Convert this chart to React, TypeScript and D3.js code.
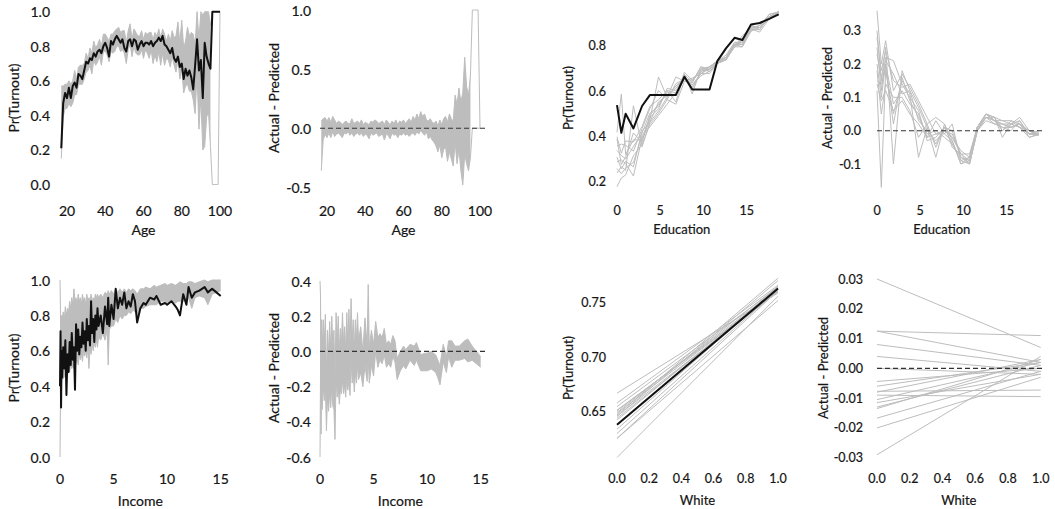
import React from 'react';
import * as d3 from 'd3';

// ---------------- DATA ----------------
const AGES = [17,18,19,20,21,22,23,24,25,26,27,28,29,30,31,32,33,34,35,36,37,38,39,40,41,42,43,44,45,46,47,48,49,50,51,52,53,54,55,56,57,58,59,60,61,62,63,64,65,66,67,68,69,70,71,72,73,74,75,76,77,78,79,80,81,82,83,84,85,86,87,88,89,90,91,92,93,94,95,96,97,98,99,100];
const AGE_ACTUAL = [
  0.21,0.47,0.53,0.50,0.56,0.50,0.57,0.59,0.56,0.64,
  0.63,0.61,0.66,0.71,0.70,0.73,0.72,0.76,0.74,0.77,
  0.78,0.76,0.80,0.82,0.79,0.74,0.83,0.81,0.84,0.86,
  0.84,0.82,0.84,0.79,0.77,0.83,0.84,0.80,0.84,0.83,
  0.78,0.81,0.83,0.80,0.82,0.82,0.81,0.83,0.80,0.82,
  0.83,0.85,0.83,0.86,0.81,0.80,0.78,0.76,0.79,0.73,
  0.71,0.74,0.68,0.70,0.61,0.67,0.63,0.66,0.62,0.55,
  0.69,0.84,0.66,0.72,0.50,0.82,0.74,0.70,0.67,1.00,
  1.00,1.00,1.00,1.00];
const AGE_RESID_LO = [
  -0.36,-0.10,-0.05,-0.08,-0.04,-0.08,-0.03,-0.07,-0.05,-0.04,
  -0.06,-0.08,-0.04,-0.05,-0.03,-0.06,-0.04,-0.07,-0.05,-0.04,
  -0.06,-0.04,-0.07,-0.05,-0.06,-0.09,-0.04,-0.06,-0.05,-0.04,
  -0.07,-0.06,-0.05,-0.10,-0.05,-0.06,-0.09,-0.04,-0.06,-0.05,
  -0.08,-0.05,-0.06,-0.04,-0.06,-0.05,-0.07,-0.05,-0.04,-0.06,
  -0.03,-0.05,-0.02,-0.04,-0.06,-0.03,-0.09,-0.07,-0.10,-0.12,
  -0.15,-0.20,-0.14,-0.25,-0.18,-0.16,-0.28,-0.20,-0.26,-0.32,
  -0.12,-0.30,-0.18,-0.36,-0.48,-0.22,-0.30,-0.36,-0.25,0,
  0,0,0,0];
const AGE_RESID_HI = [
  0.06,0.08,0.09,0.06,0.09,0.05,0.10,0.07,0.04,0.06,
  0.05,0.03,0.05,0.06,0.04,0.04,0.08,0.04,0.05,0.06,
  0.04,0.07,0.03,0.05,0.04,0.03,0.06,0.05,0.07,0.06,
  0.04,0.05,0.06,0.03,0.07,0.05,0.03,0.06,0.04,0.07,
  0.03,0.06,0.05,0.07,0.04,0.06,0.08,0.05,0.10,0.07,
  0.12,0.08,0.14,0.10,0.12,0.07,0.06,0.08,0.05,0.04,
  0.06,0.02,0.07,0.03,0.08,0.10,0.05,0.12,0.08,0.06,
  0.28,0.20,0.34,0.22,0.30,0.60,0.35,0.28,0.45,1,
  1,1,1,0];
const AGE_BAND_MAX = 95;

const EDU = [0,0.5,1,1.9,2.9,3.8,4.8,5.8,6.8,7.8,8.7,9.7,10.7,11.6,12.6,13.6,14.5,15.5,16.5,17.6,18.7];
const EDU_ACTUAL = [0.538,0.416,0.50,0.435,0.534,0.582,0.582,0.582,0.582,0.663,0.607,0.607,0.607,0.732,0.788,0.835,0.825,0.894,0.90,0.918,0.938];
const EDU_RESID_1 = [0.36,0.20,0.27,0.12,0.17,0.13,0.08,0.02,0.04,0.02,-0.05,-0.07,-0.10,0.00,0.05,0.04,0.00,0.03,0.02,0.00,-0.01];
const EDU_RESID_2 = [0.25,0.12,0.22,0.21,0.14,0.10,0.06,-0.03,-0.02,0.01,-0.04,-0.08,-0.09,0.01,0.04,0.03,0.03,0.02,0.01,-0.01,-0.01];
const EDU_RESID_3 = [0.12,-0.17,0.18,0.05,0.15,0.11,-0.08,0.01,-0.08,0.02,-0.03,-0.10,-0.09,0.00,0.04,0.04,-0.02,0.02,0.04,0.00,-0.015];
const EDU_RESID_4 = [0.30,0.15,0.25,-0.10,0.18,0.12,0.03,0.00,-0.03,0.00,-0.02,-0.06,-0.08,0.01,0.05,0.03,0.02,0.01,0.02,-0.01,0.00];
const EDU_RESID_5 = [0.20,0.10,0.20,0.08,0.12,0.08,0.05,-0.02,0.03,-0.01,0.02,-0.09,-0.10,0.00,0.03,0.02,0.01,0.00,0.03,-0.01,-0.01];
const EDU_RESID_6 = [0.28,0.18,0.24,0.15,0.13,0.14,0.09,0.04,-0.01,0.00,-0.01,-0.07,-0.07,0.01,0.05,0.04,0.03,0.03,0.01,0.00,-0.005];
const EDU_RESID_7 = [0.18,0.05,0.14,0.10,0.10,0.06,-0.02,0.02,-0.05,0.01,0.00,-0.08,-0.10,0.00,0.04,0.02,0.02,0.02,0.03,-0.02,-0.01];
const EDU_RESID_8 = [0.15,0.14,0.19,0.02,0.16,0.09,0.04,-0.01,0.00,-0.02,-0.04,-0.09,-0.08,0.01,0.05,0.03,0.01,0.01,0.02,-0.01,-0.012];
const EDU_RESID_9 = [0.23,0.16,0.21,0.17,0.11,0.12,0.07,0.01,-0.04,0.01,-0.02,-0.07,-0.09,0.00,0.04,0.03,0.02,0.01,0.02,-0.01,-0.008];
const EDU_RESID_10 = [0.14,0.09,0.12,0.06,0.09,0.05,0.02,-0.02,-0.01,-0.01,-0.03,-0.10,-0.08,0.01,0.05,0.03,0.00,0.02,0.01,-0.02,-0.012];
const EDU_RESIDS = [EDU_RESID_1,EDU_RESID_2,EDU_RESID_3,EDU_RESID_4,EDU_RESID_5,EDU_RESID_6,EDU_RESID_7,EDU_RESID_8,EDU_RESID_9,EDU_RESID_10];

const INCOME = [0,0.05,0.1,0.15,0.2,0.3,0.4,0.5,0.6,0.7,0.8,0.9,1.0,1.1,1.2,1.3,1.4,1.5,1.6,1.7,1.8,1.9,2.0,2.1,2.2,2.3,2.4,2.5,2.6,2.7,2.8,2.9,3.0,3.1,3.2,3.3,3.4,3.5,3.6,3.8,4.0,4.2,4.4,4.5,4.6,4.8,5.0,5.2,5.4,5.6,5.8,6.0,6.2,6.4,6.6,6.8,7.0,7.2,7.5,7.8,8.0,8.4,8.8,9.0,9.4,9.8,10.0,10.4,10.8,11.0,11.2,11.5,11.8,12.0,12.3,12.6,13.0,13.5,13.8,14.2,14.6,15.0];
const INCOME_ACTUAL = [0.40,0.71,0.28,0.60,0.45,0.62,0.50,0.66,0.35,0.58,0.48,0.65,0.52,0.70,0.55,0.62,0.38,0.75,0.60,0.72,0.58,0.68,0.62,0.76,0.64,0.71,0.60,0.78,0.66,0.74,0.63,0.88,0.70,0.78,0.65,0.80,0.72,0.84,0.74,0.80,0.70,0.85,0.75,0.90,0.74,0.86,0.78,0.95,0.84,0.90,0.86,0.93,0.84,0.88,0.85,0.92,0.88,0.76,0.84,0.87,0.86,0.90,0.89,0.91,0.86,0.87,0.86,0.88,0.85,0.83,0.80,0.92,0.86,0.96,0.90,0.93,0.94,0.96,0.93,0.95,0.93,0.91];
const INCOME_PRED_LO = [0.00,0.40,0.45,0.42,0.45,0.44,0.46,0.45,0.48,0.46,0.50,0.48,0.52,0.50,0.52,0.50,0.55,0.53,0.56,0.52,0.58,0.55,0.58,0.54,0.60,0.57,0.60,0.56,0.62,0.50,0.62,0.58,0.64,0.60,0.65,0.62,0.66,0.62,0.68,0.66,0.70,0.66,0.72,0.52,0.72,0.74,0.74,0.78,0.76,0.80,0.78,0.80,0.80,0.82,0.81,0.83,0.82,0.80,0.84,0.84,0.85,0.86,0.86,0.86,0.88,0.88,0.87,0.88,0.87,0.88,0.88,0.88,0.89,0.90,0.84,0.90,0.91,0.90,0.86,0.92,0.93,0.94];
const INCOME_PRED_HI = [1.00,0.80,0.75,0.80,0.78,0.82,0.78,0.85,0.80,0.84,0.82,0.88,0.84,0.90,0.86,0.95,0.88,0.90,0.86,0.92,0.88,0.90,0.86,0.92,0.88,0.90,0.86,0.92,0.88,0.90,0.88,0.92,0.88,0.90,0.88,0.92,0.90,0.92,0.90,0.92,0.90,0.93,0.92,0.94,0.92,0.94,0.92,0.95,0.93,0.95,0.93,0.95,0.93,0.95,0.94,0.95,0.94,0.92,0.95,0.95,0.96,0.95,0.97,0.96,0.97,0.98,0.97,0.98,0.97,0.98,0.99,0.98,0.98,0.99,0.99,0.98,0.99,1.00,0.99,1.00,1.00,1.00];

const WHITE = [0, 1];
const WHITE_ACTUAL = [0.638, 0.763];
const WHITE_RESID_START = [0.030,0.0125,0.0125,0.008,0.004,-0.0044,-0.0077,-0.008,-0.009,-0.0105,-0.0115,-0.013,-0.0135,-0.0167,-0.020,-0.029,0.000,-0.006];
const WHITE_RESID_END = [0.007,0.011,0.002,0.001,-0.001,0.000,-0.0073,0.003,-0.0095,0.002,-0.002,0.001,0.003,-0.001,-0.003,0.004,-0.002,0.002];

const AGE_TICKS = [20,40,60,80,100];
const EDU_TICKS = [0,5,10,15];
const INCOME_TICKS = [0,5,10,15];
const WHITE_TICKS = [0,0.2,0.4,0.6,0.8,1.0];
const PR_TICKS_01 = [0,0.2,0.4,0.6,0.8,1.0];
const AGE_RESID_TICKS = [-0.5,0,0.5,1.0];
const EDU_PR_TICKS = [0.2,0.4,0.6,0.8];
const EDU_RESID_TICKS = [-0.1,0,0.1,0.2,0.3];
const INCOME_RESID_TICKS = [-0.6,-0.4,-0.2,0,0.2,0.4];
const WHITE_PR_TICKS = [0.65,0.70,0.75];
const WHITE_RESID_TICKS = [-0.03,-0.02,-0.01,0,0.01,0.02,0.03];

// ---------------- DRAWING ----------------
const GRAY = '#bdbdbd';
const FONT = "Lato, 'Open Sans', sans-serif";
const clamp01 = (v: number) => Math.max(0, Math.min(1, v));
const fmt = (spec: string) => (v: number) => d3.format(spec)(v).replace('\u2212', '-');

type Series = { x: number[]; y: number[] };
type Band = { x: number[]; lo: number[]; hi: number[] };

interface PanelSpec {
  xDomain: [number, number]; xRange: [number, number];
  yDomain: [number, number]; yRange: [number, number];
  xTicks: number[]; yTicks: number[];
  xFmt: (v: number) => string; yFmt: (v: number) => string;
  xLabel: string; yLabel: string; fontSize: number; tickSize: number;
  yLabelX: number; tickRight: number; xTickY: number; xTitleY: number; yTitleY: number;
  bands?: Band[]; gray?: Series[]; black?: Series[];
  zero?: [number, number];
}

function Panel({ p }: { p: PanelSpec }) {
  const x = d3.scaleLinear().domain(p.xDomain).range(p.xRange);
  const y = d3.scaleLinear().domain(p.yDomain).range(p.yRange);
  const line = (s: Series) =>
    d3.line<number>().x((_, i) => x(s.x[i])).y((v) => y(v))(s.y) || '';
  const area = (b: Band) =>
    d3.area<number>().x((_, i) => x(b.x[i])).y0((_, i) => y(b.lo[i])).y1((_, i) => y(b.hi[i]))(b.x) || '';
  const txt = { fontSize: p.fontSize, fontFamily: FONT, fill: '#151515', stroke: '#151515', strokeWidth: 0.2 };
  const tick = { ...txt, fontSize: p.tickSize };
  return (
    <g>
      {(p.bands || []).map((b, i) => (
        <path key={'b' + i} d={area(b)} fill={GRAY} stroke="none" />
      ))}
      {(p.gray || []).map((s, i) => (
        <path key={'g' + i} d={line(s)} fill="none" stroke={GRAY} strokeWidth={1} strokeLinejoin="round" />
      ))}
      {(p.black || []).map((s, i) => (
        <path key={'k' + i} d={line(s)} fill="none" stroke="#111" strokeWidth={2} strokeLinejoin="round" />
      ))}
      {p.zero && (
        <line x1={p.zero[0]} x2={p.zero[1]} y1={y(0)} y2={y(0)} stroke="#333" strokeWidth={1.1} strokeDasharray="5,3" />
      )}
      {p.yTicks.map((t) => (
        <text key={'yt' + t} x={p.tickRight} y={y(t)} textAnchor="end" dominantBaseline="central" {...tick}>{p.yFmt(t)}</text>
      ))}
      {p.xTicks.map((t) => (
        <text key={'xt' + t} x={x(t)} y={p.xTickY} textAnchor="middle" dominantBaseline="central" {...tick}>{p.xFmt(t)}</text>
      ))}
      <text x={(p.xRange[0] + p.xRange[1]) / 2} y={p.xTitleY} textAnchor="middle" dominantBaseline="central" {...txt}>{p.xLabel}</text>
      <text transform={`translate(${p.yLabelX},${p.yTitleY}) rotate(-90)`} textAnchor="middle" dominantBaseline="central" {...txt}>{p.yLabel}</text>
    </g>
  );
}

export default function App() {
  const bandIdx = AGES.map((_, i) => i).filter((i) => AGES[i] <= AGE_BAND_MAX);
  const pick = (arr: number[]) => bandIdx.map((i) => arr[i]);
  const agePredLo = AGES.map((_, i) => clamp01(AGE_ACTUAL[i] - AGE_RESID_HI[i]));
  const agePredHi = AGES.map((_, i) => clamp01(AGE_ACTUAL[i] - AGE_RESID_LO[i]));

  const incResidLo = INCOME.map((_, i) => INCOME_ACTUAL[i] - INCOME_PRED_HI[i]);
  const incResidHi = INCOME.map((_, i) => INCOME_ACTUAL[i] - INCOME_PRED_LO[i]);

  const eduPred = EDU_RESIDS.map((r) => EDU_ACTUAL.map((a, i) => a - r[i]));
  const whitePred = WHITE_RESID_START.map((s, k) => [WHITE_ACTUAL[0] - s, WHITE_ACTUAL[1] - WHITE_RESID_END[k]]);

  const L = { fontSize: 14, tickSize: 14 }; // left figure
  const R = { fontSize: 13, tickSize: 12.5 }; // right figure
  const row1 = { xTickY: 210, xTitleY: 229, yTitleY: 98 };
  const row2 = { xTickY: 478, xTitleY: 500, yTitleY: 368 };

  const panels: PanelSpec[] = [
    {
      ...row1, ...L, xDomain: [20, 100], xRange: [67, 220], yDomain: [0, 1], yRange: [184.5, 11.7],
      xTicks: AGE_TICKS, yTicks: PR_TICKS_01, xFmt: fmt('d'), yFmt: fmt('.1f'),
      xLabel: 'Age', yLabel: 'Pr(Turnout)', yLabelX: 13, tickRight: 50,
      bands: [{ x: pick(AGES), lo: pick(agePredLo), hi: pick(agePredHi) }],
      gray: [{ x: AGES, y: agePredLo }, { x: AGES, y: agePredHi }],
      black: [{ x: AGES, y: AGE_ACTUAL }],
    },
    {
      ...row1, ...L, xDomain: [20, 100], xRange: [327, 480], yDomain: [-0.5, 1], yRange: [187.3, 10],
      xTicks: AGE_TICKS, yTicks: AGE_RESID_TICKS, xFmt: fmt('d'), yFmt: fmt('.1f'),
      xLabel: 'Age', yLabel: 'Actual - Predicted', yLabelX: 273, tickRight: 311,
      bands: [{ x: pick(AGES), lo: pick(AGE_RESID_LO), hi: pick(AGE_RESID_HI) }],
      gray: [{ x: AGES, y: AGE_RESID_LO }, { x: AGES, y: AGE_RESID_HI }],
      zero: [320, 488],
    },
    {
      ...row1, ...R, xDomain: [0, 15], xRange: [617, 746.7], yDomain: [0.2, 0.8], yRange: [181.7, 45.7],
      xTicks: EDU_TICKS, yTicks: EDU_PR_TICKS, xFmt: fmt('d'), yFmt: fmt('.1f'),
      xLabel: 'Education', yLabel: 'Pr(Turnout)', yLabelX: 568, tickRight: 606,
      gray: eduPred.map((s) => ({ x: EDU, y: s })),
      black: [{ x: EDU, y: EDU_ACTUAL }],
    },
    {
      ...row1, ...R, xDomain: [0, 15], xRange: [877, 1006.7], yDomain: [-0.1, 0.3], yRange: [164, 30.7],
      xTicks: EDU_TICKS, yTicks: EDU_RESID_TICKS, xFmt: fmt('d'), yFmt: fmt('.1f'),
      xLabel: 'Education', yLabel: 'Actual - Predicted', yLabelX: 827, tickRight: 861,
      gray: EDU_RESIDS.map((s) => ({ x: EDU, y: s })),
      zero: [877, 1043],
    },
    {
      ...row2, ...L, xDomain: [0, 15], xRange: [60, 220.7], yDomain: [0, 1], yRange: [457, 280],
      xTicks: INCOME_TICKS, yTicks: PR_TICKS_01, xFmt: fmt('d'), yFmt: fmt('.1f'),
      xLabel: 'Income', yLabel: 'Pr(Turnout)', yLabelX: 13, tickRight: 50,
      bands: [{ x: INCOME, lo: INCOME_PRED_LO, hi: INCOME_PRED_HI }],
      gray: [{ x: INCOME, y: INCOME_PRED_LO }, { x: INCOME, y: INCOME_PRED_HI }],
      black: [{ x: INCOME, y: INCOME_ACTUAL }],
    },
    {
      ...row2, ...L, xDomain: [0, 15], xRange: [320, 480.7], yDomain: [-0.6, 0.4], yRange: [457, 281],
      xTicks: INCOME_TICKS, yTicks: INCOME_RESID_TICKS, xFmt: fmt('d'), yFmt: fmt('.1f'),
      xLabel: 'Income', yLabel: 'Actual - Predicted', yLabelX: 273, tickRight: 311,
      bands: [{ x: INCOME, lo: incResidLo, hi: incResidHi }],
      gray: [{ x: INCOME, y: incResidLo }, { x: INCOME, y: incResidHi }],
      zero: [320, 488],
    },
    {
      ...row2, ...R, xDomain: [0, 1], xRange: [617, 778], yDomain: [0.65, 0.75], yRange: [411.7, 302.7],
      xTicks: WHITE_TICKS, yTicks: WHITE_PR_TICKS, xFmt: fmt('.1f'), yFmt: fmt('.2f'),
      xLabel: 'White', yLabel: 'Pr(Turnout)', yLabelX: 568, tickRight: 606,
      gray: whitePred.map((s) => ({ x: WHITE, y: s })),
      black: [{ x: WHITE, y: WHITE_ACTUAL }],
    },
    {
      ...row2, ...R, xDomain: [0, 1], xRange: [877, 1040.7], yDomain: [-0.03, 0.03], yRange: [457.7, 279],
      xTicks: WHITE_TICKS, yTicks: WHITE_RESID_TICKS, xFmt: fmt('.1f'), yFmt: fmt('.2f'),
      xLabel: 'White', yLabel: 'Actual - Predicted', yLabelX: 823, tickRight: 863,
      gray: WHITE_RESID_START.map((s, k) => ({ x: WHITE, y: [s, WHITE_RESID_END[k]] })),
      zero: [877, 1045],
    },
  ];

  return (
    <svg width={1055} height={509} style={{ position: 'absolute', left: 0, top: 0, background: '#fff' }}>
      <rect width={1055} height={509} fill="#fff" />
      {panels.map((p, i) => <Panel key={i} p={p} />)}
    </svg>
  );
}
